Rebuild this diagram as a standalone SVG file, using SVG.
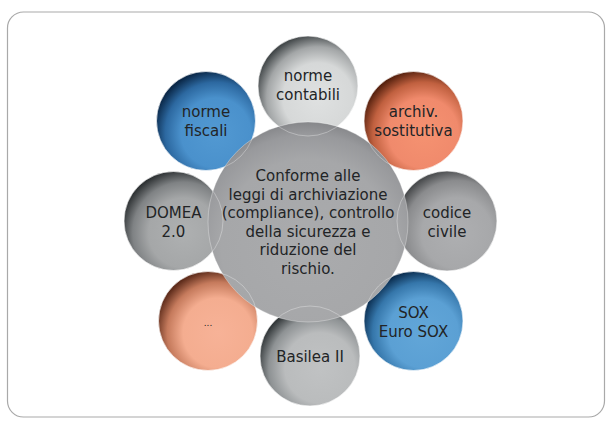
<svg xmlns="http://www.w3.org/2000/svg" width="606" height="422" viewBox="0 0 606 422">
  <defs>
    <radialGradient id="gLight" cx="0.6" cy="0.62" r="0.64">
      <stop offset="0" stop-color="#dfe1e1"/>
      <stop offset="0.55" stop-color="#d6d8d8"/>
      <stop offset="0.8" stop-color="#a3a6a7"/>
      <stop offset="1" stop-color="#43484a"/>
    </radialGradient>
    <radialGradient id="gMid" cx="0.6" cy="0.62" r="0.64">
      <stop offset="0" stop-color="#aeb0b1"/>
      <stop offset="0.55" stop-color="#a5a7a8"/>
      <stop offset="0.8" stop-color="#7f8284"/>
      <stop offset="1" stop-color="#2f3335"/>
    </radialGradient>
    <radialGradient id="gCod" cx="0.6" cy="0.62" r="0.64">
      <stop offset="0" stop-color="#aeafb1"/>
      <stop offset="0.55" stop-color="#a7a8aa"/>
      <stop offset="0.82" stop-color="#8a8b8d"/>
      <stop offset="1" stop-color="#4a4c4e"/>
    </radialGradient>
    <radialGradient id="gBas" cx="0.6" cy="0.62" r="0.64">
      <stop offset="0" stop-color="#c0c2c3"/>
      <stop offset="0.55" stop-color="#babcbd"/>
      <stop offset="0.8" stop-color="#8e9294"/>
      <stop offset="1" stop-color="#33383a"/>
    </radialGradient>
    <radialGradient id="gBlue" cx="0.6" cy="0.62" r="0.64">
      <stop offset="0" stop-color="#5299d2"/>
      <stop offset="0.55" stop-color="#4a91cc"/>
      <stop offset="0.8" stop-color="#2c68a0"/>
      <stop offset="1" stop-color="#0a2747"/>
    </radialGradient>
    <radialGradient id="gBlue2" cx="0.6" cy="0.62" r="0.64">
      <stop offset="0" stop-color="#62a6d8"/>
      <stop offset="0.55" stop-color="#5ba0d4"/>
      <stop offset="0.8" stop-color="#3576aa"/>
      <stop offset="1" stop-color="#0a2c4e"/>
    </radialGradient>
    <radialGradient id="gOr" cx="0.6" cy="0.62" r="0.64">
      <stop offset="0" stop-color="#f59271"/>
      <stop offset="0.55" stop-color="#f08a6c"/>
      <stop offset="0.8" stop-color="#c0603f"/>
      <stop offset="1" stop-color="#58220f"/>
    </radialGradient>
    <radialGradient id="gOr2" cx="0.6" cy="0.62" r="0.64">
      <stop offset="0" stop-color="#f7b297"/>
      <stop offset="0.55" stop-color="#f4ad90"/>
      <stop offset="0.8" stop-color="#c57a5c"/>
      <stop offset="1" stop-color="#5e2c1b"/>
    </radialGradient>
    <radialGradient id="gCenter" cx="0.5" cy="0.62" r="0.62">
      <stop offset="0" stop-color="#aaabad"/>
      <stop offset="0.7" stop-color="#a6a7a9"/>
      <stop offset="0.9" stop-color="#98999c"/>
      <stop offset="1" stop-color="#86878a"/>
    </radialGradient>
  </defs>
  <style>
    .lbl { font-family: "DejaVu Sans", "Liberation Sans", sans-serif; font-size: 15px; fill: #222426; text-anchor: middle; }
    .sat { stroke: #ffffff; stroke-opacity: 0.55; stroke-width: 0.8; }
    .ol { fill: none; stroke: #ffffff; stroke-opacity: 0.4; stroke-width: 0.8; }
  </style>

  <rect x="7.5" y="12" width="597" height="405" rx="16" ry="16" fill="#ffffff" stroke="#a9a9a9" stroke-width="1.2"/>

  <g id="node-norme-contabili">
    <circle class="sat" cx="308" cy="86" r="50" fill="url(#gLight)"/>
    <text class="lbl" x="308" y="81">norme</text>
    <text class="lbl" x="308" y="100">contabili</text>
  </g>
  <g id="node-norme-fiscali">
    <circle class="sat" cx="206" cy="121" r="49.5" fill="url(#gBlue)"/>
    <text class="lbl" x="206" y="117">norme</text>
    <text class="lbl" x="206" y="136">fiscali</text>
  </g>
  <g id="node-archiv">
    <circle class="sat" cx="413.5" cy="121" r="49.5" fill="url(#gOr)"/>
    <text class="lbl" x="413.5" y="117">archiv.</text>
    <text class="lbl" x="413.5" y="136">sostitutiva</text>
  </g>
  <g id="node-domea">
    <circle class="sat" cx="173.5" cy="221" r="49.5" fill="url(#gMid)"/>
    <text class="lbl" x="173.5" y="218">DOMEA</text>
    <text class="lbl" x="173.5" y="237">2.0</text>
  </g>
  <g id="node-codice-civile">
    <circle class="sat" cx="447" cy="221" r="50" fill="url(#gCod)"/>
    <text class="lbl" x="447" y="218">codice</text>
    <text class="lbl" x="447" y="237">civile</text>
  </g>
  <g id="node-dots">
    <circle class="sat" cx="208" cy="321" r="49.5" fill="url(#gOr2)"/>
    <text class="lbl" x="208" y="326" style="font-size:9px">...</text>
  </g>
  <g id="node-sox">
    <circle class="sat" cx="413.5" cy="321" r="49.5" fill="url(#gBlue2)"/>
    <text class="lbl" x="413.5" y="318">SOX</text>
    <text class="lbl" x="413.5" y="337">Euro SOX</text>
  </g>
  <g id="node-basilea">
    <circle class="sat" cx="310" cy="356" r="50" fill="url(#gBas)"/>
    <text class="lbl" x="310" y="362">Basilea II</text>
  </g>

  <g id="node-center">
    <circle cx="308" cy="222" r="100" fill="url(#gCenter)" stroke="#ffffff" stroke-opacity="0.4" stroke-width="0.8"/>
    <g id="overlap-outlines">
      <circle class="ol" cx="308" cy="86" r="50"/>
      <circle class="ol" cx="206" cy="121" r="49.5"/>
      <circle class="ol" cx="413.5" cy="121" r="49.5"/>
      <circle class="ol" cx="173.5" cy="221" r="49.5"/>
      <circle class="ol" cx="447" cy="221" r="50"/>
      <circle class="ol" cx="208" cy="321" r="49.5"/>
      <circle class="ol" cx="413.5" cy="321" r="49.5"/>
      <circle class="ol" cx="310" cy="356" r="50"/>
    </g>
    <text class="lbl" x="308" y="181">Conforme alle</text>
    <text class="lbl" x="308" y="199.5">leggi di archiviazione</text>
    <text class="lbl" x="308" y="218">(compliance), controllo</text>
    <text class="lbl" x="308" y="236.5">della sicurezza e</text>
    <text class="lbl" x="308" y="255">riduzione del</text>
    <text class="lbl" x="308" y="273.5">rischio.</text>
  </g>

  <g id="connectors"/>
</svg>
